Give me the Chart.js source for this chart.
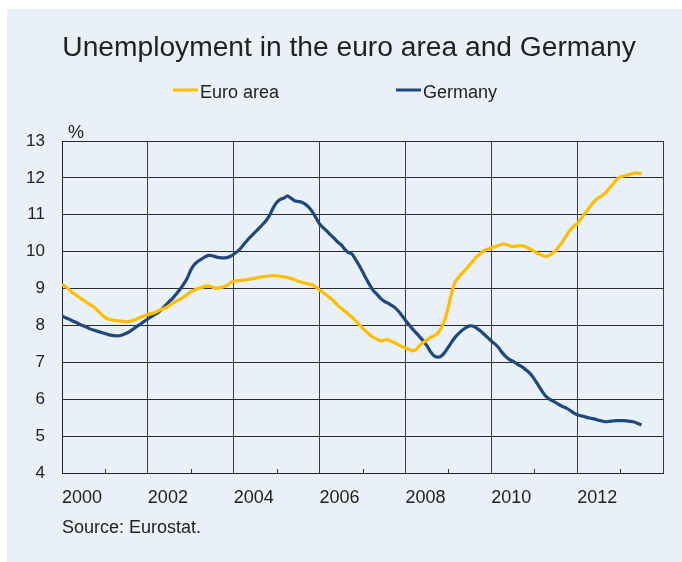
<!DOCTYPE html>
<html><head><meta charset="utf-8">
<script src="https://cdn.jsdelivr.net/npm/chart.js@4.4.0/dist/chart.umd.min.js"></script>
<style>html,body{margin:0;padding:0;background:#fff;}#wrap{position:absolute;left:0;top:0;width:682px;height:562px;}</style>
</head><body><div id="wrap"><canvas id="c" width="682" height="562"></canvas></div>
<script>
// ---- data (monthly, from Jan 2000) ----
const startYear = 2000;
const seriesNames = ['Euro area', 'Germany'];
const euroArea = [
9.12,9.05,8.97,8.88,8.82,8.75,8.69,8.62,8.55,8.49,8.40,8.30,
8.22,8.17,8.15,8.13,8.12,8.11,8.10,8.12,8.14,8.18,8.22,8.26,
8.30,8.32,8.35,8.40,8.44,8.48,8.54,8.60,8.66,8.71,8.77,8.84,
8.91,8.96,9.00,9.03,9.06,9.07,9.04,9.01,9.02,9.04,9.08,9.15,
9.20,9.21,9.22,9.23,9.25,9.26,9.28,9.30,9.32,9.33,9.34,9.35,
9.34,9.33,9.32,9.30,9.27,9.24,9.20,9.17,9.15,9.12,9.10,9.04,
8.96,8.89,8.82,8.74,8.66,8.55,8.47,8.39,8.31,8.23,8.13,8.03,
7.93,7.84,7.75,7.68,7.63,7.58,7.60,7.62,7.57,7.53,7.48,7.43,
7.39,7.35,7.31,7.35,7.46,7.54,7.61,7.67,7.72,7.78,7.93,8.15,
8.50,8.92,9.20,9.32,9.43,9.53,9.65,9.76,9.87,9.95,10.03,10.07,
10.10,10.13,10.17,10.20,10.20,10.16,10.14,10.15,10.16,10.16,10.11,10.07,
10.01,9.95,9.91,9.87,9.89,9.95,10.03,10.15,10.28,10.43,10.58,10.68,
10.76,10.88,11.02,11.14,11.27,11.38,11.46,11.52,11.60,11.72,11.83,11.95,
12.02,12.05,12.08,12.10,12.13,12.13,12.11
];
const germany = [
8.26,8.21,8.17,8.12,8.08,8.03,7.99,7.95,7.90,7.87,7.84,7.81,
7.78,7.75,7.73,7.72,7.72,7.75,7.79,7.84,7.91,7.98,8.04,8.11,
8.18,8.24,8.30,8.36,8.45,8.55,8.65,8.74,8.86,8.98,9.12,9.28,
9.50,9.65,9.74,9.80,9.86,9.90,9.89,9.86,9.84,9.83,9.84,9.87,
9.93,10.00,10.10,10.22,10.33,10.43,10.53,10.63,10.73,10.84,10.98,11.18,
11.33,11.42,11.45,11.51,11.45,11.38,11.36,11.34,11.29,11.20,11.08,10.92,
10.75,10.65,10.56,10.46,10.37,10.27,10.19,10.07,9.98,9.94,9.80,9.64,
9.46,9.27,9.10,8.95,8.85,8.74,8.66,8.61,8.55,8.49,8.39,8.27,
8.14,8.02,7.90,7.80,7.69,7.58,7.45,7.29,7.18,7.14,7.17,7.27,
7.41,7.56,7.69,7.79,7.88,7.95,7.99,7.98,7.92,7.85,7.76,7.67,
7.58,7.50,7.40,7.27,7.16,7.08,7.03,6.97,6.91,6.85,6.77,6.68,
6.55,6.40,6.25,6.11,6.02,5.96,5.91,5.85,5.80,5.76,5.70,5.63,
5.58,5.55,5.53,5.50,5.48,5.46,5.43,5.41,5.39,5.40,5.41,5.42,
5.42,5.42,5.41,5.40,5.38,5.34,5.30
];
const tickYears = [2000, 2002, 2004, 2006, 2008, 2010, 2012];
const yTicks = [4, 5, 6, 7, 8, 9, 10, 11, 12, 13];
const titleText = 'Unemployment in the euro area and Germany';
const sourceText = 'Source: Eurostat.';
const unitText = '%';

// ---- styles ----
const FONT = '"Liberation Sans", Arial, sans-serif';
const TEXT = '#222222';
const colors = ['#FFBD00', '#1F497D'];

const toPoints = arr => arr.map((v, i) => ({ x: startYear + i / 12, y: v }));

const bgPlugin = {
  id: 'bg',
  beforeDraw(chart) {
    const c = chart.ctx;
    c.save();
    c.fillStyle = '#ffffff';
    c.fillRect(0, 0, chart.width, chart.height);
    c.fillStyle = '#E9F0F8';
    c.fillRect(7, 9, chart.width - 7, chart.height - 9);
    c.restore();
  }
};

const extrasPlugin = {
  id: 'extras',
  afterDatasetsDraw(chart) {
    const c = chart.ctx;
    const xs = chart.scales.x;
    const bottom = chart.chartArea.bottom;
    c.save();
    c.strokeStyle = '#333';
    c.lineWidth = 1;
    for (let yr = startYear + 1; yr < xs.max; yr += 2) {
      const px = Math.round(xs.getPixelForValue(yr)) + 0.5;
      c.beginPath();
      c.moveTo(px, bottom);
      c.lineTo(px, bottom - 4);
      c.stroke();
    }
    c.restore();
  },
  afterDraw(chart) {
    const c = chart.ctx;
    const area = chart.chartArea;
    c.save();
    c.fillStyle = TEXT;
    c.textBaseline = 'alphabetic';
    // title
    c.textAlign = 'center';
    c.font = '28.2px ' + FONT;
    c.fillText(titleText, 349, 56);
    c.textAlign = 'left';
    c.font = '18px ' + FONT;
    c.fillText(unitText, area.left + 6, area.top - 3);
    c.fillText(sourceText, area.left, 533);
    const lx = [173, 396];
    chart.data.datasets.forEach((ds, i) => {
      c.strokeStyle = ds.borderColor;
      c.lineWidth = 3;
      c.beginPath();
      c.moveTo(lx[i], 90);
      c.lineTo(lx[i] + 25, 90);
      c.stroke();
      c.fillStyle = TEXT;
      c.fillText(ds.label, lx[i] + 27, 97.5);
    });
    c.restore();
  }
};

new Chart(document.getElementById('c'), {
  type: 'line',
  data: {
    datasets: [
      { label: seriesNames[0], data: toPoints(euroArea), borderColor: colors[0], backgroundColor: colors[0],
        borderWidth: 3.2, pointRadius: 0, tension: 0.2, borderJoinStyle: 'round', fill: false },
      { label: seriesNames[1], data: toPoints(germany), borderColor: colors[1], backgroundColor: colors[1],
        borderWidth: 3.2, pointRadius: 0, tension: 0.2, borderJoinStyle: 'round', fill: false }
    ]
  },
  options: {
    responsive: false,
    animation: false,
    devicePixelRatio: 1,
    layout: { padding: { left: 22, right: 19, top: 141, bottom: 49 } },
    plugins: {
      legend: { display: false },
      tooltip: { enabled: false },
      title: { display: false }
    },
    scales: {
      x: {
        type: 'linear', min: startYear, max: 2014,
        afterBuildTicks: s => { const t = []; for (let y = startYear; y <= 2014; y++) t.push({ value: y }); s.ticks = t; },
        afterFit: s => { s.height = 40; },
        ticks: {
          autoSkip: false, maxRotation: 0, align: 'start', padding: 14, color: TEXT,
          font: { family: FONT, size: 18 },
          callback: v => tickYears.includes(v) ? String(v) : ''
        },
        grid: {
          drawTicks: false, lineWidth: 1,
          color: ctx => (ctx.tick && ctx.tick.value % 2 === 0) ? '#3c3c3c' : 'rgba(0,0,0,0)'
        },
        border: { display: true, color: '#222', width: 1 }
      },
      y: {
        type: 'linear', min: 4, max: 13,
        afterBuildTicks: s => { s.ticks = yTicks.map(v => ({ value: v })); },
        afterFit: s => { s.width = 40; },
        ticks: { padding: 17, color: TEXT, font: { family: FONT, size: 17 } },
        grid: { drawTicks: false, color: '#2a2a2a', lineWidth: 1 },
        border: { display: true, color: '#222', width: 1 }
      }
    }
  },
  plugins: [bgPlugin, extrasPlugin]
});
</script></body></html>
